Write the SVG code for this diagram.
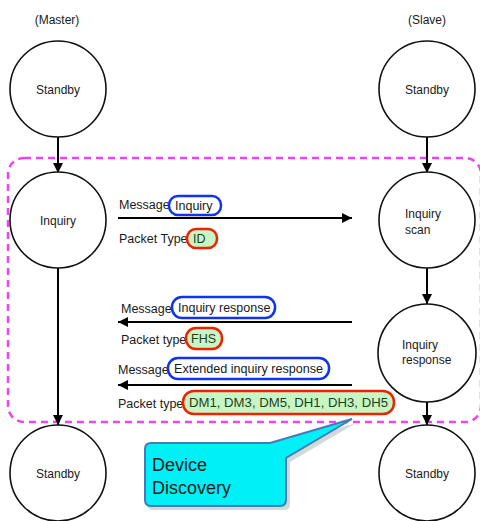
<svg xmlns="http://www.w3.org/2000/svg" width="480" height="521" viewBox="0 0 480 521">
  <defs>
    <marker id="ah" viewBox="0 0 10 10" refX="10" refY="5" markerWidth="5" markerHeight="5" orient="auto" markerUnits="strokeWidth">
      <path d="M0,0 L10,5 L0,10 z" fill="#000"/>
    </marker>
    <style>
      text { font-family: "Liberation Sans", Arial, sans-serif; fill: #1a1a1a; }
      .state { fill: #fff; stroke: #111; stroke-width: 1.6; }
      .lbl { font-size: 12px; }
      .m { font-size: 12.5px; }
      .ctr { text-anchor: middle; }
      .flow { stroke: #000; stroke-width: 2; fill: none; marker-end: url(#ah); }
      .msg { fill: #fff; stroke: #1133ee; stroke-width: 2.5; }
      .pkt { fill: #c8f5c4; stroke: #ee2200; stroke-width: 2.5; }
      .pkttxt { fill: #1e3d1e; }
      .zone { fill: none; stroke: #ee44ee; stroke-width: 2.5; stroke-dasharray: 7 5; }
    </style>
  </defs>

  <!-- role headings -->
  <text class="lbl ctr" x="57" y="24">(Master)</text>
  <text class="lbl ctr" x="427" y="24">(Slave)</text>

  <!-- inquiry phase boundary -->
  <rect class="zone" x="8" y="158" width="473" height="264" rx="16"/>

  <!-- state transitions and messages -->
  <g id="connectors">
    <line class="flow" x1="58" y1="137" x2="58" y2="173"/>
    <line class="flow" x1="58" y1="268" x2="58" y2="425"/>
    <line class="flow" x1="427" y1="137" x2="427" y2="173"/>
    <line class="flow" x1="427" y1="268" x2="427" y2="304"/>
    <line class="flow" x1="427" y1="402" x2="427" y2="425"/>
    <line class="flow" x1="118" y1="218" x2="352" y2="218"/>
    <line class="flow" x1="352" y1="322" x2="118" y2="322"/>
    <line class="flow" x1="352" y1="385" x2="118" y2="385"/>
  </g>

  <!-- master states -->
  <g id="master-standby">
    <circle class="state" cx="58" cy="89" r="48"/>
    <text class="lbl ctr" x="58" y="94">Standby</text>
  </g>
  <g id="master-inquiry">
    <circle class="state" cx="58" cy="220" r="48"/>
    <text class="lbl ctr" x="58" y="225">Inquiry</text>
  </g>
  <g id="master-standby-end">
    <circle class="state" cx="58" cy="473" r="48"/>
    <text class="lbl ctr" x="58" y="478">Standby</text>
  </g>

  <!-- slave states -->
  <g id="slave-standby">
    <circle class="state" cx="427" cy="89" r="48"/>
    <text class="lbl ctr" x="427" y="94">Standby</text>
  </g>
  <g id="slave-inquiry-scan">
    <circle class="state" cx="427" cy="220" r="48"/>
    <text class="lbl" x="405" y="218">Inquiry</text>
    <text class="lbl" x="405" y="234">scan</text>
  </g>
  <g id="slave-inquiry-response">
    <circle class="state" cx="427" cy="353" r="49"/>
    <text class="lbl" x="402" y="349">Inquiry</text>
    <text class="lbl" x="402" y="364">response</text>
  </g>
  <g id="slave-standby-end">
    <circle class="state" cx="427" cy="473" r="48"/>
    <text class="lbl ctr" x="427" y="478">Standby</text>
  </g>

  <!-- inquiry message -->
  <g id="msg-inquiry">
    <text class="m" x="119" y="209">Message</text>
    <rect class="msg" x="169" y="196" width="52" height="19" rx="9"/>
    <text class="m" x="175" y="210">Inquiry</text>
    <text class="m" x="119" y="243">Packet Type</text>
    <rect class="pkt" x="187" y="229" width="30" height="19" rx="9"/>
    <text class="m pkttxt" x="193" y="243">ID</text>
  </g>

  <!-- inquiry response message -->
  <g id="msg-inquiry-response">
    <text class="m" x="121" y="313">Message</text>
    <rect class="msg" x="172" y="297" width="103" height="21" rx="10"/>
    <text class="m" x="178" y="312">Inquiry response</text>
    <text class="m" x="121" y="344">Packet type</text>
    <rect class="pkt" x="186" y="328" width="36" height="21" rx="10"/>
    <text class="m pkttxt" x="191" y="343">FHS</text>
  </g>

  <!-- extended inquiry response message -->
  <g id="msg-extended-response">
    <text class="m" x="118" y="374">Message</text>
    <rect class="msg" x="168" y="358" width="161" height="21" rx="10"/>
    <text class="m" x="174" y="373" textLength="149" lengthAdjust="spacingAndGlyphs">Extended inquiry response</text>
    <text class="m" x="118" y="408">Packet type</text>
    <rect class="pkt" x="183" y="391" width="211" height="23" rx="11"/>
    <text class="m pkttxt" x="189" y="407" textLength="199" lengthAdjust="spacingAndGlyphs">DM1, DM3, DM5, DH1, DH3, DH5</text>
  </g>

  <!-- callout -->
  <g id="callout-device-discovery">
    <path d="M153,447 H274 L356,423 L290,462 V504 Q290,510 284,510 H153 Q147,510 147,504 V453 Q147,447 153,447 z" fill="#9aa" opacity="0.45"/>
    <path d="M151,443 H270 L352,419 L286,458 V500 Q286,506 280,506 H151 Q145,506 145,500 V449 Q145,443 151,443 z" fill="#00f0f8" stroke="#4a78b8" stroke-width="2"/>
    <text x="152" y="471" font-size="18">Device</text>
    <text x="152" y="494" font-size="18">Discovery</text>
  </g>
</svg>
